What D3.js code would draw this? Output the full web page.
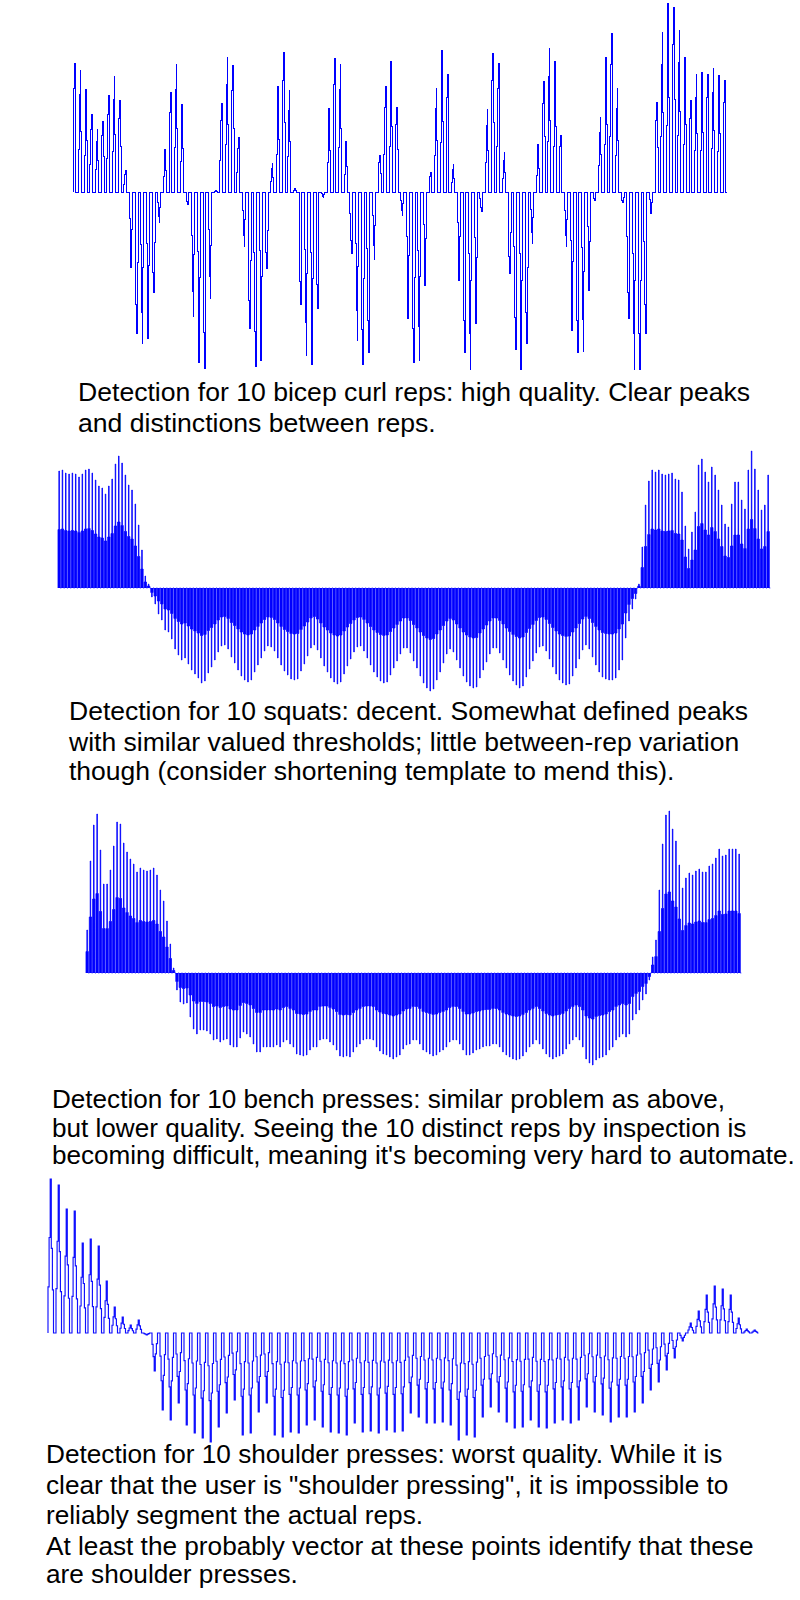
<!DOCTYPE html>
<html>
<head>
<meta charset="utf-8">
<script src="https://cdn.jsdelivr.net/npm/d3@7"></script>
<style>
    body { margin: 0; background: #fff; }
    svg { display: block; }
    .caption { font-family: "Liberation Sans", Arial, sans-serif; fill: #000; }
</style>
</head>
<body>
<svg id="chart" width="800" height="1600"></svg>
<script>
// detection output per template step
const bicepPeaks = [129, 122, 103, 78, 63, 71, 97, 116, 92, 22,
    -75, -141, -151, -146, -100, -30,
    43, 100, 128, 88, -12,
    -124, -170, -176, -106, 2,
    89, 135, 127, 55,
    -54, -136, -174, -168, -76,
    29, 106, 140, 102, 4,
    -112, -163, -172, -116, -5,
    84, 134, 128, 51,
    -61, -148, -172, -160, -67,
    37, 106, 131, 85,
    -23, -126, -170, -168, -93,
    20, 104, 142, 118, 28,
    -88, -160, -177, -131, -19,
    83, 139, 129, 40,
    -81, -157, -177, -151, -51,
    48, 111, 144, 131, 57,
    -54, -138, -160, -159, -98, -8,
    75, 135, 159, 104,
    -10, -126, -177, -177, -141, -21,
    90, 160, 189, 185, 162, 135, 92, 118, 120, 118, 124, 117, 112];

const squatPeaks = [117, 118, 115, 114, 115, 114, 111, 114, 118, 119, 115, 108, 102, 100,
    94, 102, 109, 124, 132, 125, 113, 103, 98, 84, 63, 38, 12, 4,
    -9, -16, -26, -32, -42, -44, -51, -61, -67, -72, -70, -76, -82, -86, -90,
    -95, -93, -85, -79, -72, -64, -58, -57, -61, -69, -75, -82, -88, -92,
    -94, -92, -84, -77, -70, -63, -58, -59, -63, -70, -77, -83, -87, -91,
    -92, -91, -83, -76, -68, -60, -57, -62, -70, -78, -84, -90, -94,
    -96, -94, -86, -78, -71, -64, -59, -58, -63, -70, -77, -84, -89, -93,
    -95, -94, -87, -80, -73, -66, -60, -60, -65, -73, -80, -88, -95, -100,
    -103, -101, -92, -84, -75, -66, -61, -64, -72, -80, -88, -94, -98,
    -100, -99, -90, -82, -74, -66, -60, -60, -65, -72, -80, -87, -93, -97,
    -100, -98, -89, -81, -73, -65, -59, -58, -63, -71, -79, -86, -92, -95,
    -97, -96, -88, -80, -71, -62, -57, -61, -69, -77, -84, -89, -91,
    -92, -92, -90, -82, -72, -50, -33, -21, -11,
    4, 41, 83, 107, 118, 116, 118, 114, 113, 114, 115, 109, 108, 96, 62, 39, 56, 76, 123, 129,
    116, 106, 121, 113, 98, 83, 64, 61, 84, 106, 106, 88, 79, 118, 137, 119, 98, 78, 83, 113];

const benchPeaks = [43, 112, 148, 159, 123, 89, 89, 103, 127, 151, 149, 130, 121, 114,
    109, 101, 105, 103, 102, 103, 105, 98, 83, 72, 52, 29, 5,
    -17, -29, -31, -30, -44, -56, -61, -57, -57, -58,
    -61, -67, -66, -69, -67, -66, -72, -74, -74, -65,
    -59, -61, -64, -71, -79, -79, -74, -74, -74, -74,
    -72, -74, -69, -67, -71, -74, -81, -82, -83, -82,
    -77, -74, -74, -67, -66, -66, -69, -72, -77, -83,
    -84, -83, -84, -79, -74, -71, -67, -66, -66, -67,
    -74, -78, -81, -82, -84, -86, -84, -82,
    -76, -72, -71, -67, -67, -71, -77, -79, -81, -83,
    -82, -79, -77, -74, -69, -67, -67, -71, -77, -82,
    -82, -80, -77, -76, -74, -73, -73, -71, -71, -74,
    -79, -82, -84, -86, -87, -86, -83, -79, -74, -71,
    -67, -71, -76, -81, -84, -86, -84, -83, -81, -76,
    -71, -67, -64, -67, -74, -86, -90, -92, -87, -85,
    -84, -82, -77, -74, -67, -64, -61, -64, -61, -47,
    -41, -37, -27, -21, -7,
    16, 33, 83, 129, 158, 162, 144, 132, 108, 85, 95, 100, 98, 102,
    104, 101, 101, 107, 109, 115, 124, 117, 118, 124, 124, 124, 119];

const shoulderPeaks = [154, 148, 124, 122, 90, 94, 87, 52, 26, 16, 8, 13, -2,
    -38, -77, -87, -70, -92, -100, -105, -109, -94, -80, -67, -102, -100, -79, -70,
    -102, -104, -99, -100, -92, -87, -94, -99, -100, -102, -90, -99, -98, -100, -97,
    -99, -98, -80, -84, -90, -90, -89, -92, -107, -102, -104, -84, -74, -79, -89,
    -95, -94, -87, -94, -95, -90, -87, -90, -87, -74, -79, -82, -89, -84, -84,
    -79, -70, -57, -49, -37, -25, -8,
    10, 22, 38, 47, 44, 38, 15, 4, 3];

const bicepCaption = ["Detection for 10 bicep curl reps: high quality. Clear peaks",
    "and distinctions between reps."];
const squatCaption = ["Detection for 10 squats: decent. Somewhat defined peaks",
    "with similar valued thresholds; little between-rep variation",
    "though (consider shortening template to mend this)."];
const benchCaption = ["Detection for 10 bench presses: similar problem as above,",
    "but lower quality. Seeing the 10 distinct reps by inspection is",
    "becoming difficult, meaning it's becoming very hard to automate."];
const shoulderCaption = ["Detection for 10 shoulder presses: worst quality. While it is",
    "clear that the user is \"shoulder pressing\", it is impossible to",
    "reliably segment the actual reps.",
    "At least the probably vector at these points identify that these",
    "are shoulder presses."];

// shape = sub-steps of one pulse: [fraction of the value, width in px]
const panels = [
    {values: bicepPeaks, x0: 73, x1: 723, base: 192, color: '#0000ff', stroke: 1, crisp: true, fill: false,
        shape: [[0.35, 0.72], [0.8, 0.72], [1, 0.72], [0.5, 0.72]],
        caption: bicepCaption, capX: 78, capY: [401, 432], capSize: 26.6},
    {values: squatPeaks, x0: 58, x1: 767, base: 588, color: '#0000ff', stroke: 0.8, crisp: false, fill: true,
        shape: [[0.5, 0.9], [1, 0.5], [0.5, 0.9]],
        caption: squatCaption, capX: 69, capY: [720, 751, 780], capSize: 26.5},
    {values: benchPeaks, x0: 86, x1: 738, base: 973, color: '#0000ff', stroke: 0.8, crisp: false, fill: true,
        shape: [[0.5, 0.9], [1, 0.5], [0.5, 0.9]],
        caption: benchCaption, capX: 52, capY: [1108, 1137, 1164], capSize: 26.1},
    {values: shoulderPeaks, x0: 48, x1: 752, base: 1333, color: '#1010ff', stroke: 1.15, crisp: false, fill: false,
        shape: [[0.3, 1.1], [0.62, 1.1], [1, 1.1], [0.55, 1.1], [0.28, 1.1]],
        caption: shoulderCaption, capX: 46, capY: [1463, 1494, 1524, 1555, 1583], capSize: 26.2}
];

const svg = d3.select('#chart');

panels.forEach(function (p) {
    let x = d3.scaleLinear().domain([0, p.values.length - 1]).range([p.x0, p.x1]);
    let y = d3.scaleLinear().domain([-200, 200]).range([p.base + 200, p.base - 200]);

    // start on the baseline so a filled path closes along it
    let pts = [[x(0), 0]];
    p.values.forEach(function (v, i) {
        let cx = x(i);
        p.shape.forEach(function (s) {
            pts.push([cx, v * s[0]]);
            cx += s[1];
        });
        pts.push([cx, 0]);
    });
    pts.push([pts[pts.length - 1][0] + 1, 0]);

    let line = d3.line()
        .x(function (d) { return d[0]; })
        .y(function (d) { return y(d[1]); })
        .curve(d3.curveStepAfter);

    svg.append('path')
        .attr('d', line(pts))
        .attr('fill', p.fill ? p.color : 'none')
        .attr('stroke', p.color)
        .attr('stroke-width', p.stroke)
        .attr('shape-rendering', p.crisp ? 'crispEdges' : 'auto');

    svg.append('g').selectAll('text')
        .data(p.caption)
        .enter().append('text')
        .attr('class', 'caption')
        .attr('x', p.capX)
        .attr('y', function (d, i) { return p.capY[i]; })
        .style('font-size', p.capSize + 'px')
        .text(function (d) { return d; });
});
</script>
</body>
</html>
